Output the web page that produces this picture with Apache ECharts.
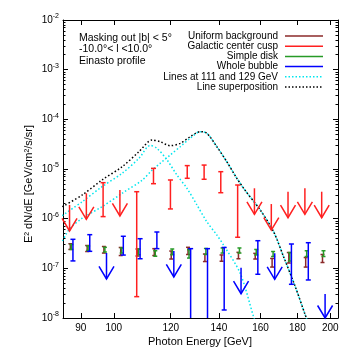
<!DOCTYPE html>
<html>
<head>
<meta charset="utf-8">
<script src="https://cdn.jsdelivr.net/npm/echarts@6/dist/echarts.min.js"></script>
<style>
  html, body { margin: 0; padding: 0; background: #fff; }
  #chart { width: 357px; height: 357px; }
</style>
</head>
<body>
<div id="chart"></div>
<script>
// energy bins [GeV]
const energies = [87.75, 92.6, 97.7, 103.1, 108.8, 114.8, 121.2, 127.9, 135.0, 142.4, 150.3, 158.6, 167.4, 176.6, 186.4, 196.7];

// Uniform background (error bar top / bottom)
const bgHi = [3.13e-7, 2.88e-7, 2.75e-7, 2.63e-7, 2.45e-7, 2.49e-7, 2.23e-7, 2.65e-7, 1.94e-7, 1.86e-7, 2.10e-7, 2.00e-7, 1.58e-7, 2.08e-7, 1.65e-7, 1.90e-7];
const bgLo = [2.40e-7, 2.18e-7, 2.03e-7, 1.81e-7, 1.77e-7, 1.81e-7, 1.54e-7, 1.90e-7, 1.37e-7, 1.39e-7, 1.56e-7, 1.54e-7, 1.06e-7, 1.28e-7, 1.06e-7, 1.31e-7];

// Simple disk
const diskHi = [3.02e-7, 2.82e-7, 2.65e-7, 2.57e-7, 2.45e-7, 2.26e-7, 2.45e-7, 2.37e-7, 2.51e-7, 2.57e-7, 2.57e-7, 2.40e-7, 2.18e-7, 2.08e-7, 2.26e-7, 2.26e-7];
const diskLo = [2.40e-7, 2.29e-7, 2.13e-7, 2.03e-7, 1.88e-7, 1.75e-7, 1.88e-7, 1.61e-7, 1.90e-7, 2.03e-7, 2.03e-7, 1.86e-7, 1.73e-7, 1.40e-7, 1.73e-7, 1.73e-7];

// Galactic center cusp (null low = upper limit)
const cuspHi = [1.89e-6, 3.24e-6, 5.30e-6, 3.78e-6, 3.49e-6, 1.03e-5, 6.01e-6, 1.17e-5, 1.20e-5, 8.83e-6, 4.76e-6, 4.09e-6, 1.97e-6, 3.49e-6, 4.09e-6, 3.49e-6];
const cuspLo = [null, null, 1.10e-6, null, 2.69e-8, 5.06e-6, 1.57e-6, 6.50e-6, 6.21e-6, 3.33e-6, 4.22e-7, null, null, null, null, null];

// Whole bubble (null low = upper limit, 0 = goes down past the axis)
const bubbleHi = [3.84e-7, 4.76e-7, 2.04e-7, 4.42e-7, 3.95e-7, 5.39e-7, 2.24e-7, 2.49e-7, 2.49e-7, 2.63e-7, 1.03e-7, 3.60e-7, 2.01e-7, 3.09e-7, 3.28e-7, 3.05e-8];
const bubbleLo = [1.41e-7, 2.20e-7, null, 1.85e-7, 1.56e-7, 2.49e-7, null, 0, 0, 1.45e-8, null, 7.59e-8, null, 4.77e-8, 5.83e-8, null];

// line at 111 GeV
const line111E = [84.8, 90.4, 96.3, 102.7, 108.4, 112.4, 114.8, 118.6, 122.4, 126.4, 130.5, 134.7, 139.1, 142.1, 149.9, 156.4, 157.0];
const line111 = [1.15e-6, 2.20e-6, 4.40e-6, 8.19e-6, 1.64e-5, 2.98e-5, 2.61e-5, 1.52e-5, 7.57e-6, 4.09e-6, 1.89e-6, 8.69e-7, 4.69e-7, 2.95e-7, 7.94e-8, 1.07e-8, 9.1e-9];

// line at 129 GeV
const line129E = [84.8, 85.9, 87.0, 90.4, 96.3, 102.7, 109.6, 113.1, 116.0, 119.8, 123.7, 127.7, 131.9, 134.7, 139.1, 143.6, 148.3, 152.3, 159.8, 166.8, 172.2, 178.8, 184.6, 185.5];
const line129 = [3.55e-7, 4.91e-7, 6.49e-7, 1.02e-6, 1.74e-6, 3.24e-6, 6.01e-6, 9.55e-6, 1.30e-5, 1.91e-5, 2.81e-5, 4.15e-5, 5.64e-5, 5.24e-5, 2.81e-5, 1.40e-5, 6.50e-6, 3.7e-6, 1.50e-6, 5.47e-7, 1.72e-7, 4.27e-8, 1.15e-8, 9.5e-9];

// superposition
const sumE = [84.8, 90.4, 96.3, 102.7, 108.4, 113.1, 116.0, 119.8, 123.7, 127.7, 131.9, 134.7, 139.1, 143.6, 148.3, 152.3, 159.8, 166.8, 172.2, 178.8, 184.6, 185.5];
const sumV = [1.74e-6, 3.00e-6, 6.01e-6, 1.11e-5, 2.23e-5, 3.84e-5, 3.55e-5, 2.95e-5, 3.29e-5, 4.47e-5, 5.64e-5, 5.24e-5, 2.81e-5, 1.40e-5, 6.50e-6, 3.7e-6, 1.50e-6, 5.47e-7, 1.72e-7, 4.27e-8, 1.15e-8, 9.5e-9];

const xTicks = [90, 100, 120, 140, 160, 180, 200];
const legendNames = ['Uniform background', 'Galactic center cusp', 'Simple disk', 'Whole bubble', 'Lines at 111 and 129 GeV', 'Line superposition'];
const infoLines = ['Masking out |b| < 5°', '-10.0°< l <10.0°', 'Einasto profile'];

const C_BROWN = '#8b2a2a', C_RED = '#ff2020', C_GREEN = '#279a27', C_BLUE = '#0000ff', C_CYAN = '#00e6ee', C_BLACK = '#000';
const FONT = 'Liberation Sans, Arial, sans-serif';

// minor log ticks 2..9 of every decade (in log10 space)
const yMinor = [];
for (let n = -8; n < -2; n++) for (let k = 2; k <= 9; k++) yMinor.push(n + Math.log10(k));

const chart = echarts.init(document.getElementById('chart'));

function barSeries(name, hi, lo, color, dx, cap, z) {
  return {
    type: 'custom', name: name, xAxisIndex: 0, yAxisIndex: 0, z: z,
    encode: { x: 0, y: 1 },
    data: energies.map((e, i) => [e, hi[i], lo[i] === null ? -1 : lo[i]]),
    renderItem: function (params, api) {
      const e = api.value(0);
      const top = api.coord([e, api.value(1)]);
      const floor = api.coord([e, 1e-8])[1];
      const x = top[0] + dx;
      const l = api.value(2);
      const style = { stroke: color, lineWidth: 1.5, fill: null };
      const kids = [];
      if (l < 0) {
        const tip = Math.min(top[1] + 26, floor);
        kids.push({ type: 'line', shape: { x1: x, y1: top[1], x2: x, y2: tip }, style: style });
        kids.push({ type: 'polyline', shape: { points: [[x - 7.5, tip - 12.5], [x, tip], [x + 7.5, tip - 12.5]] }, style: style });
      } else {
        const bot = l > 0 ? api.coord([e, l])[1] : floor;
        kids.push({ type: 'line', shape: { x1: x, y1: top[1], x2: x, y2: bot }, style: style });
        kids.push({ type: 'line', shape: { x1: x - cap, y1: top[1], x2: x + cap, y2: top[1] }, style: style });
        if (l > 0) kids.push({ type: 'line', shape: { x1: x - cap, y1: bot, x2: x + cap, y2: bot }, style: style });
      }
      return { type: 'group', children: kids };
    }
  };
}

function curve(name, xs, ys, color) {
  return {
    type: 'line', name: name, xAxisIndex: 0, yAxisIndex: 0, z: 2,
    data: xs.map((e, i) => [e, ys[i]]),
    showSymbol: false, symbol: 'none', smooth: 0.3,
    lineStyle: { color: color, width: 1.5, type: [1.5, 2.2] }
  };
}

const logX = v => Math.log10(v);
const frameTick = (len, vals) => ({ show: true, inside: true, length: len, customValues: vals, lineStyle: { color: '#000', width: 1 } });

const graphics = [];
legendNames.forEach((n, i) => {
  const y = 36 + i * 10.2;
  graphics.push({ type: 'text', x: 278, y: y, style: { text: n, font: '10px ' + FONT, fill: '#000', textAlign: 'right', textVerticalAlign: 'middle' } });
});
const legendLines = [
  { c: C_BROWN, dash: null }, { c: C_RED, dash: null }, { c: C_GREEN, dash: null },
  { c: C_BLUE, dash: null }, { c: C_CYAN, dash: [1.5, 2] }, { c: C_BLACK, dash: [1.5, 2] }
];
legendLines.forEach((d, i) => {
  const y = 36 + i * 10.2;
  graphics.push({ type: 'line', shape: { x1: 285, y1: y, x2: 323, y2: y }, style: { stroke: d.c, lineWidth: 1.5, lineDash: d.dash } });
});
infoLines.forEach((t, i) => {
  graphics.push({ type: 'text', x: 79, y: 38 + i * 11.5, style: { text: t, font: '10.5px ' + FONT, fill: '#000', textVerticalAlign: 'middle' } });
});
graphics.push({ type: 'text', x: 29, y: 184, rotation: Math.PI / 2,
  style: { text: 'E² dN/dE [GeV/cm²/s/sr]', font: '11px ' + FONT, fill: '#000', textAlign: 'center', textVerticalAlign: 'middle' } });
graphics.push({ type: 'text', x: 200, y: 342,
  style: { text: 'Photon Energy [GeV]', font: '11px ' + FONT, fill: '#000', textAlign: 'center', textVerticalAlign: 'middle' } });

const option = {
  animation: false,
  backgroundColor: '#fff',
  grid: { left: 63, right: 19, top: 20, bottom: 39, outerBoundsMode: 'none' },
  xAxis: [
    { type: 'log', min: 85, max: 205, show: false },
    { type: 'value', min: logX(85), max: logX(205), position: 'bottom',
      axisLine: { show: true, onZero: false, lineStyle: { color: '#000', width: 1 } },
      axisTick: frameTick(5, xTicks.map(logX)),
      axisLabel: { customValues: xTicks.map(logX), formatter: v => String(Math.round(Math.pow(10, v))), color: '#000', fontSize: 10, fontFamily: FONT, margin: 5 },
      splitLine: { show: false } },
    { type: 'value', min: logX(85), max: logX(205), position: 'top',
      axisLine: { show: true, onZero: false, lineStyle: { color: '#000', width: 1 } },
      axisTick: frameTick(5, xTicks.map(logX)),
      axisLabel: { show: false }, splitLine: { show: false } }
  ],
  yAxis: [
    { type: 'log', min: 1e-8, max: 1e-2, splitNumber: 6, position: 'left',
      axisLine: { show: true, onZero: false, lineStyle: { color: '#000', width: 1 } },
      axisTick: { show: true, inside: true, length: 5, lineStyle: { color: '#000' } },
      axisLabel: {
        color: '#000', margin: 4, fontFamily: FONT,
        formatter: v => '{b|10}{s|' + Math.round(Math.log10(v)) + '}',
        rich: { b: { fontSize: 10, fontFamily: FONT, color: '#000' }, s: { fontSize: 7, fontFamily: FONT, color: '#000', padding: [0, 0, 7, 0] } }
      },
      splitLine: { show: false } },
    { type: 'value', min: -8, max: -2, position: 'left',
      axisLine: { show: false }, axisTick: frameTick(2.5, yMinor), axisLabel: { show: false }, splitLine: { show: false } },
    { type: 'log', min: 1e-8, max: 1e-2, splitNumber: 6, position: 'right',
      axisLine: { show: true, onZero: false, lineStyle: { color: '#000', width: 1 } },
      axisTick: { show: true, inside: true, length: 5, lineStyle: { color: '#000' } },
      axisLabel: { show: false }, splitLine: { show: false } },
    { type: 'value', min: -8, max: -2, position: 'right',
      axisLine: { show: false }, axisTick: frameTick(2.5, yMinor), axisLabel: { show: false }, splitLine: { show: false } }
  ],
  series: [
    curve('Lines at 111 GeV', line111E, line111, C_CYAN),
    curve('Lines at 129 GeV', line129E, line129, C_CYAN),
    curve('Line superposition', sumE, sumV, C_BLACK),
    barSeries('Uniform background', bgHi, bgLo, C_BROWN, -2.6, 2, 4),
    barSeries('Simple disk', diskHi, diskLo, C_GREEN, -1.6, 2, 5),
    barSeries('Galactic center cusp', cuspHi, cuspLo, C_RED, -3.4, 2.5, 6),
    barSeries('Whole bubble', bubbleHi, bubbleLo, C_BLUE, 0, 2.5, 7)
  ],
  graphic: graphics
};

chart.setOption(option);
</script>
</body>
</html>
